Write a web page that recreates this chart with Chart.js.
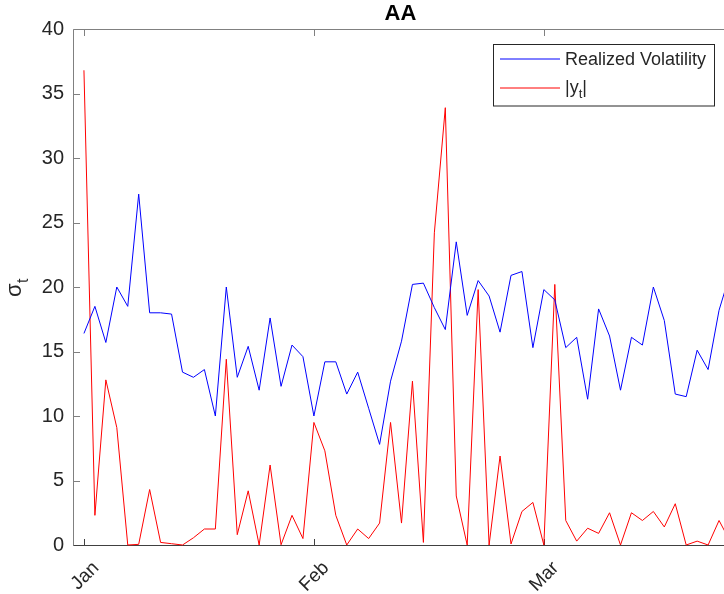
<!DOCTYPE html>
<html>
<head>
<meta charset="UTF-8">
<title>AA</title>
<script src="https://cdn.jsdelivr.net/npm/chart.js"></script>
<style>
  html, body { margin: 0; padding: 0; background: #fff; overflow: hidden; }
  #wrap { width: 760px; height: 594px; }
</style>
</head>
<body>
<div id="wrap"><canvas id="volChart" width="760" height="594"></canvas></div>
<script>
const chartTitle = "AA";
const monthTicks = [0, 21, 42];
const monthLabels = ["Jan", "Feb", "Mar"];
const yTicks = [0, 5, 10, 15, 20, 25, 30, 35, 40];

// realized volatility, one value per trading day
const realizedVol = [
  16.4, 18.5, 15.7, 20.0, 18.5, 27.2, 18.0, 18.0, 17.9, 13.4,
  13.0, 13.6, 10.0, 20.0, 13.0, 15.4, 12.0, 17.6, 12.3, 15.5,
  14.6, 10.0, 14.2, 14.2, 11.7, 13.4, 10.6, 7.8, 12.7, 15.8,
  20.2, 20.3, 18.4, 16.7, 23.5, 17.8, 20.5, 19.3, 16.5, 20.9,
  21.2, 15.3, 19.8, 19.0, 15.3, 16.1, 11.3, 18.3, 16.2, 12.0,
  16.1, 15.5, 20.0, 17.4, 11.7, 11.5, 15.1, 13.6, 18.2, 21.0
];
// absolute returns |y_t|
const absReturns = [
  36.8, 2.3, 12.8, 9.1, 0.0, 0.05, 4.3, 0.2, 0.1, 0.0,
  0.56, 1.24, 1.24, 14.4, 0.8, 4.2, 0.0, 6.2, 0.02, 2.3,
  0.5, 9.5, 7.3, 2.3, 0.0, 1.24, 0.5, 1.7, 9.5, 1.7,
  12.7, 0.2, 24.2, 33.9, 3.8, 0.0, 19.8, 0.0, 6.9, 0.08,
  2.6, 3.3, 0.0, 20.2, 1.9, 0.3, 1.3, 0.9, 2.5, 0.0,
  2.5, 1.9, 2.6, 1.4, 3.2, 0.0, 0.3, 0.0, 1.9, 0.3
];

const fontFam = "'Liberation Sans', Arial, Helvetica, sans-serif";
const axisGrey = "#808080";
const textDark = "#262626";

// matlab style box, inward ticks, title, ylabel, legend
const matlabAxes = {
  id: "matlabAxes",
  beforeDatasetsDraw(chart) {
    const { ctx, chartArea: a, scales } = chart;
    const L = Math.round(a.left) + 0.5, R = Math.round(a.right) + 0.5;
    const T = Math.round(a.top) + 0.5, B = Math.round(a.bottom) + 0.5;
    const tl = 6.5;
    ctx.save();
    ctx.strokeStyle = axisGrey;
    ctx.lineWidth = 1;
    ctx.beginPath();
    ctx.moveTo(L, B); ctx.lineTo(L, T); ctx.lineTo(R, T); ctx.lineTo(R, B);
    yTicks.forEach(v => {
      const y = Math.round(scales.y.getPixelForValue(v)) + 0.5;
      ctx.moveTo(L, y); ctx.lineTo(L + tl, y);
      ctx.moveTo(R, y); ctx.lineTo(R - tl, y);
    });
    monthTicks.forEach(v => {
      const x = Math.round(scales.x.getPixelForValue(v)) + 0.5;
      ctx.moveTo(x, T); ctx.lineTo(x, T + tl);
    });
    ctx.stroke();
    ctx.strokeStyle = "#404040";
    ctx.beginPath();
    ctx.moveTo(L, B); ctx.lineTo(R, B);
    monthTicks.forEach(v => {
      const x = Math.round(scales.x.getPixelForValue(v)) + 0.5;
      ctx.moveTo(x, B); ctx.lineTo(x, B - tl);
    });
    ctx.stroke();

    // title
    ctx.fillStyle = "#000";
    ctx.font = "bold 22px " + fontFam;
    ctx.textAlign = "center";
    ctx.textBaseline = "alphabetic";
    ctx.fillText(chartTitle, (a.left + a.right) / 2 - 1, 20);

    // y label sigma_t
    ctx.save();
    ctx.translate(21, 297);
    ctx.rotate(-Math.PI / 2);
    ctx.fillStyle = textDark;
    ctx.textAlign = "left";
    ctx.font = "22px " + fontFam;
    ctx.fillText("σ", 0, 0);
    const w = ctx.measureText("σ").width;
    ctx.font = "16px " + fontFam;
    ctx.fillText("t", w + 0.5, 7);
    ctx.restore();
    ctx.restore();
  },
  afterDatasetsDraw(chart) {
    const { ctx } = chart;
    const bx = 493.5, by = 44.5, bw = 221, bh = 61.5;
    ctx.save();
    ctx.fillStyle = "#fff";
    ctx.fillRect(bx, by, bw, bh);
    ctx.strokeStyle = "#262626";
    ctx.lineWidth = 1;
    ctx.strokeRect(bx, by, bw, bh);
    const rows = [59, 88];
    chart.data.datasets.forEach((ds, i) => {
      ctx.strokeStyle = ds.borderColor;
      ctx.lineWidth = 1;
      ctx.beginPath();
      ctx.moveTo(500, rows[i]); ctx.lineTo(560, rows[i]);
      ctx.stroke();
      ctx.fillStyle = textDark;
      ctx.textAlign = "left";
      ctx.textBaseline = "middle";
      ctx.font = "18px " + fontFam;
      if (ds.sub) {
        ctx.fillText(ds.label, 565, rows[i] + 0.5);
        let x = 565 + ctx.measureText(ds.label).width;
        ctx.font = "13px " + fontFam;
        ctx.fillText(ds.sub, x, rows[i] + 6.5);
        x += ctx.measureText(ds.sub).width;
        ctx.font = "18px " + fontFam;
        ctx.fillText(ds.after, x, rows[i] + 0.5);
      } else {
        ctx.fillText(ds.label, 565, rows[i] + 1.5);
      }
    });
    ctx.restore();
  }
};

new Chart(document.getElementById("volChart"), {
  type: "line",
  data: {
    datasets: [
      {
        label: "Realized Volatility",
        data: realizedVol.map((v, i) => ({ x: i, y: v })),
        borderColor: "#0000ff",
        borderWidth: 1,
        pointRadius: 0,
        tension: 0,
        clip: false
      },
      {
        label: "|y",
        sub: "t",
        after: "|",
        data: absReturns.map((v, i) => ({ x: i, y: v })),
        borderColor: "#ff0000",
        borderWidth: 1,
        pointRadius: 0,
        tension: 0,
        clip: false
      }
    ]
  },
  options: {
    responsive: false,
    animation: false,
    devicePixelRatio: 1,
    layout: { padding: { top: 29, right: 30, left: 0, bottom: 0 } },
    plugins: {
      legend: { display: false },
      tooltip: { enabled: false },
      title: { display: false }
    },
    scales: {
      x: {
        type: "linear",
        min: -1,
        max: 59,
        afterBuildTicks: s => { s.ticks = monthTicks.map(v => ({ value: v })); },
        afterFit: s => { s.height = 49; },
        grid: { display: false, drawTicks: false },
        border: { display: false },
        ticks: {
          autoSkip: false,
          minRotation: 45,
          maxRotation: 45,
          padding: 12,
          labelOffset: 12,
          color: textDark,
          font: { family: fontFam, size: 19 },
          callback: v => monthLabels[monthTicks.indexOf(v)]
        }
      },
      y: {
        min: 0,
        max: 40,
        afterBuildTicks: s => { s.ticks = yTicks.map(v => ({ value: v })); },
        afterFit: s => { s.width = 73; },
        grid: { display: false, drawTicks: false },
        border: { display: false },
        ticks: {
          padding: 9,
          color: textDark,
          font: { family: fontFam, size: 20 }
        }
      }
    }
  },
  plugins: [matlabAxes]
});
</script>
</body>
</html>
